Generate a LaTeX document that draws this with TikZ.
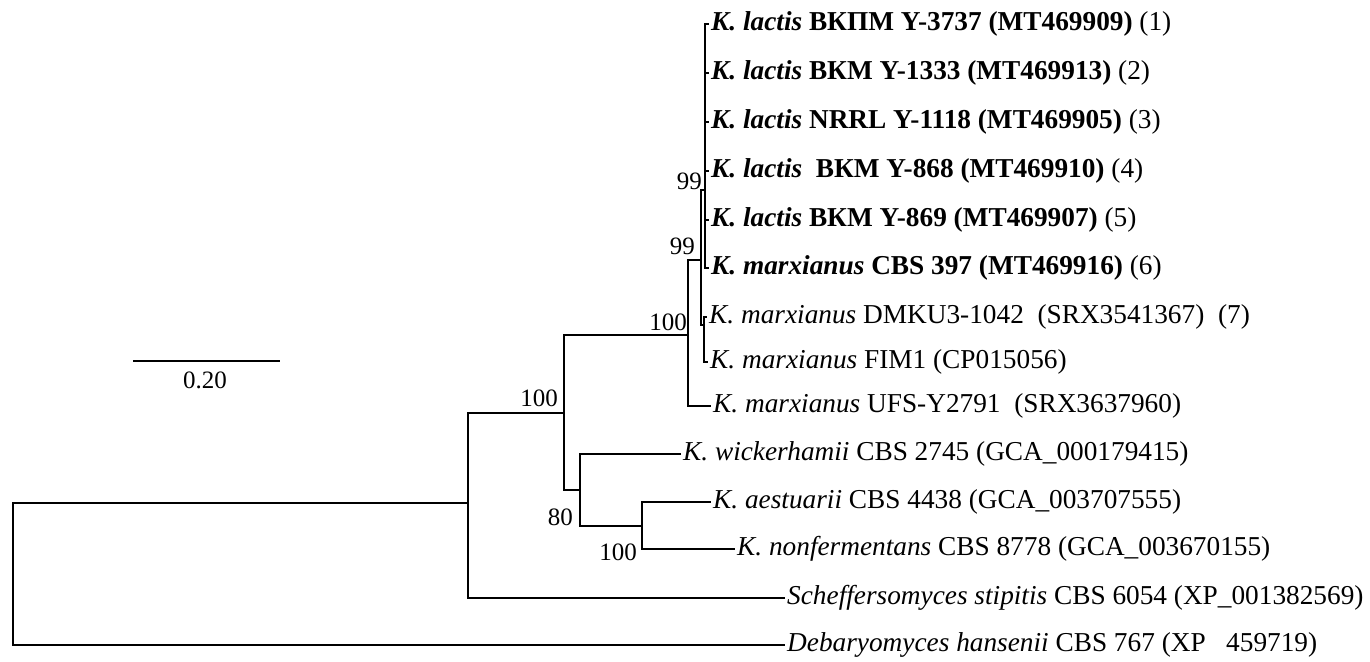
\documentclass[tikz,border=0pt]{standalone}
\usepackage{fontspec}
\setmainfont{Liberation Serif}
\begin{document}
\begin{tikzpicture}[x=1pt,y=-1pt,
  branch/.style={line width=1.6pt,line cap=rect},
  leaf/.style={anchor=west,inner xsep=3pt,inner ysep=0pt,font=\fontsize{27.3}{31}\selectfont},
  boot/.style={anchor=base east,inner sep=0pt,font=\fontsize{25}{29}\selectfont}]
\useasboundingbox (0,0) rectangle (1370,661);
% internal nodes
\coordinate (R) at (13,574);
\coordinate (A) at (468,503);
\coordinate (B) at (564,413);
\coordinate (C) at (688,335);
\coordinate (F) at (701,260);
\coordinate (G) at (705,190);
\coordinate (H) at (704,325);
\coordinate (D) at (580,490);
\coordinate (E) at (642,526);
% leaves
\node[leaf] (L1) at (708,24) {\textbf{\textit{K. lactis} ВКПМ Y-3737 (MT469909)} (1)};
\node[leaf] (L2) at (708,73) {\textbf{\textit{K. lactis} ВКМ Y-1333 (MT469913)} (2)};
\node[leaf] (L3) at (708,122) {\textbf{\textit{K. lactis} NRRL Y-1118 (MT469905)} (3)};
\node[leaf] (L4) at (708,171) {\textbf{\textit{K. lactis}\ \ ВКМ Y-868 (MT469910)} (4)};
\node[leaf] (L5) at (708,220) {\textbf{\textit{K. lactis} ВКМ Y-869 (MT469907)} (5)};
\node[leaf] (L6) at (708,268) {\textbf{\textit{K. marxianus} CBS 397 (MT469916)} (6)};
\node[leaf] (L7) at (706,317) {\textit{K. marxianus} DMKU3-1042\ \ (SRX3541367)\ \ (7)};
\node[leaf] (L8) at (707,362) {\textit{K. marxianus} FIM1 (CP015056)};
\node[leaf] (L9) at (710,406) {\textit{K. marxianus} UFS-Y2791\ \ (SRX3637960)};
\node[leaf] (L10) at (680,454) {\textit{K. wickerhamii} CBS 2745 (GCA\_000179415)};
\node[leaf] (L11) at (710,502) {\textit{K. aestuarii} CBS 4438 (GCA\_003707555)};
\node[leaf] (L12) at (734,549) {\textit{K. nonfermentans} CBS 8778 (GCA\_003670155)};
\node[leaf] (L13) at (784,598) {\textit{Scheffersomyces stipitis} CBS 6054 (XP\_001382569)};
\node[leaf] (L14) at (784,645) {\textit{Debaryomyces hansenii} CBS 767 (XP\phantom{\_}\hspace{0.25em}459719)};
% branches
\draw[branch] (R) |- (A);
\draw[branch] (R) |- (L14.west);
\draw[branch] (A) |- (B);
\draw[branch] (A) |- (L13.west);
\draw[branch] (B) |- (C);
\draw[branch] (B) |- (D);
\draw[branch] (D) |- (L10.west);
\draw[branch] (D) |- (E);
\draw[branch] (E) |- (L11.west);
\draw[branch] (E) |- (L12.west);
\draw[branch] (C) |- (F);
\draw[branch] (C) |- (L9.west);
\draw[branch] (F) |- (G);
\draw[branch] (F) |- (H);
\draw[branch] (H) |- (L7.west);
\draw[branch] (H) |- (L8.west);
\foreach \i in {1,...,6} {\draw[branch] (G) |- (L\i.west);}
% bootstrap values
\node[boot] (b1) at (702,189) {99};
\node[boot] (b2) at (695,254) {99};
\node[boot] (b3) at (687,330) {100};
\node[boot] (b4) at (558,406) {100};
\node[boot] (b5) at (573,525) {80};
\node[boot] (b6) at (637,560) {100};
% scale bar
\coordinate (s1) at (133,361);
\coordinate (s2) at (280,361);
\draw[line width=1.4pt] (s1) -- (s2);
\node[anchor=base,inner sep=0pt,font=\fontsize{25}{29}\selectfont] (sl) at (205,388) {0.20};
\end{tikzpicture}
\end{document}
